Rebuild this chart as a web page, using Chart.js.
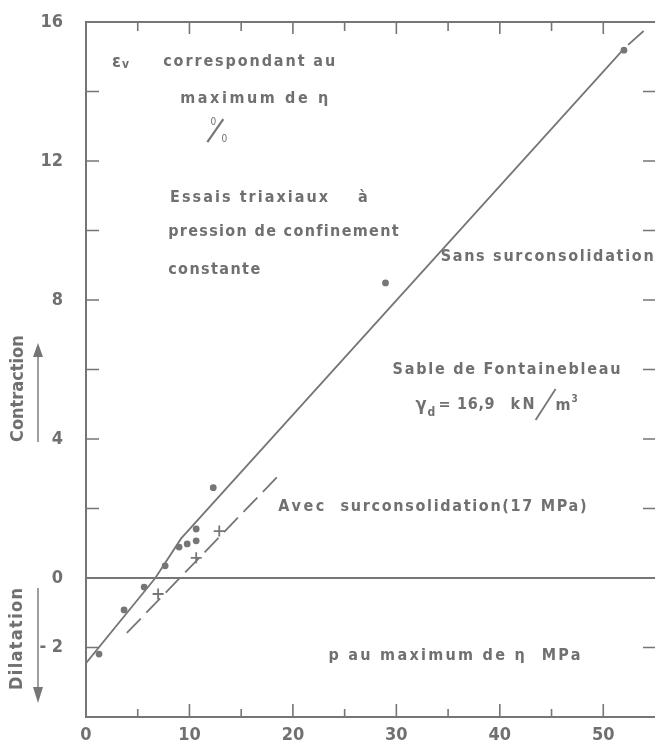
<!DOCTYPE html>
<html>
<head>
<meta charset="utf-8">
<script src="https://cdn.jsdelivr.net/npm/chart.js@4.4.1/dist/chart.umd.min.js"></script>
<style>
  html, body { margin: 0; padding: 0; background: #fff; }
  #wrap { width: 655px; height: 747px; position: relative; }
</style>
</head>
<body>
<div id="wrap"><canvas id="chart"></canvas></div>
<script>
// epsilon_v (%) at the maximum of eta, against p (MPa) at that maximum
const sansX = [1.26, 3.68, 5.62, 7.65, 9.0, 9.78, 10.65, 10.65, 12.3, 28.95, 52.0];
const sansY = [-2.19, -0.92, -0.26, 0.35, 0.89, 0.98, 1.07, 1.41, 2.6, 8.49, 15.19];
const avecX = [6.97, 10.65, 12.88];
const avecY = [-0.46, 0.58, 1.35];

// fitted lines as drawn on the figure
const sansLineX = [0, 6.7, 9.2, 51.9];
const sansLineY = [-2.45, 0, 1.14, 15.2];
const sansTailX = [52.4, 53.9];
const sansTailY = [15.34, 15.74];
const avecLineX = [3.95, 18.65];
const avecLineY = [-1.58, 2.96];

// axes
const xMin = 0, xMax = 55, xStep = 5;
const yMin = -4, yMax = 16, yStep = 2;
const xTickLabels = ["0", "10", "20", "30", "40", "50"];
const xTickValues = [0, 10, 20, 30, 40, 50];
const yTickLabels = ["- 2", "0", "4", "8", "12", "16"];
const yTickValues = [-2, 0, 4, 8, 12, 16];

const INK = "#767676";
const TXT = "#707070";
const FONT = "'Liberation Sans Narrow', 'DejaVu Sans Condensed', sans-serif";

const toPts = (xs, ys) => xs.map((x, i) => ({ x, y: ys[i] }));

// annotations: left edge / vertical middle in data units, w = drawn width in px
const notes = [
  { text: "correspondant au", x: 7.46, y: 14.85, w: 172 },
  { text: "maximum de η", x: 9.1, y: 13.78, w: 148 },
  { text: "Essais triaxiaux", x: 8.13, y: 10.94, w: 158 },
  { text: "à", x: 26.3, y: 10.94, w: 8 },
  { text: "pression de confinement", x: 7.94, y: 9.96, w: 230 },
  { text: "constante", x: 7.94, y: 8.86, w: 92 },
  { text: "Sans surconsolidation", x: 34.28, y: 9.24, w: 213 },
  { text: "Sable de Fontainebleau", x: 29.63, y: 5.99, w: 228 },
  { text: "Avec", x: 18.59, y: 2.04, w: 46 },
  { text: "surconsolidation(17 MPa)", x: 24.6, y: 2.04, w: 246 },
  { text: "p au maximum de η  MPa", x: 23.43, y: -2.24, w: 252 }
];

function spaced(ctx, text, x, y, w) {
  ctx.letterSpacing = "0px";
  const base = ctx.measureText(text).width;
  const n = [...text].length;
  const ls = n > 1 ? Math.max(0, (w - base) / (n - 1)) : 0;
  ctx.letterSpacing = ls + "px";
  ctx.fillText(text, x, y);
  ctx.letterSpacing = "0px";
}

function arrowHead(ctx, x, tipY, baseY) {
  ctx.beginPath();
  ctx.moveTo(x, tipY);
  ctx.lineTo(x - 5, baseY);
  ctx.lineTo(x + 5, baseY);
  ctx.closePath();
  ctx.fill();
}

const framePlugin = {
  id: "frame",
  afterDatasetsDraw(chart) {
    const { ctx, chartArea: a, scales } = chart;
    const sx = scales.x, sy = scales.y;
    ctx.save();
    ctx.strokeStyle = INK;
    ctx.fillStyle = TXT;
    ctx.lineWidth = 2;

    // box (right side runs off the page)
    ctx.beginPath();
    ctx.moveTo(a.right, a.top);
    ctx.lineTo(a.left, a.top);
    ctx.lineTo(a.left, a.bottom);
    ctx.lineTo(a.right, a.bottom);
    ctx.stroke();

    // inward tick marks
    ctx.lineWidth = 1.6;
    ctx.beginPath();
    sx.ticks.forEach(t => {
      if (t.value <= xMin || t.value >= xMax) return;
      const px = sx.getPixelForValue(t.value);
      const major = t.value % 10 === 0;
      ctx.moveTo(px, a.bottom); ctx.lineTo(px, a.bottom - (major ? 13 : 8));
      ctx.moveTo(px, a.top); ctx.lineTo(px, a.top + (major ? 12 : 9));
    });
    sy.ticks.forEach(t => {
      if (t.value <= yMin || t.value >= yMax || t.value === 0) return;
      const py = sy.getPixelForValue(t.value);
      ctx.moveTo(a.left, py); ctx.lineTo(a.left + 13, py);
      ctx.moveTo(a.right, py); ctx.lineTo(a.right - 12, py);
    });
    ctx.stroke();

    // annotations
    ctx.textBaseline = "middle";
    ctx.textAlign = "left";
    ctx.font = "bold 16px " + FONT;
    notes.forEach(n => spaced(ctx, n.text, sx.getPixelForValue(n.x), sy.getPixelForValue(n.y), n.w));

    // epsilon_v
    let bx = sx.getPixelForValue(2.52), by = sy.getPixelForValue(14.85);
    ctx.font = "bold 18px " + FONT;
    ctx.fillText("ε", bx, by);
    ctx.font = "bold 12px " + FONT;
    ctx.fillText("v", bx + 10, by + 3);

    // per cent sign
    bx = sx.getPixelForValue(12.5); by = sy.getPixelForValue(12.89);
    ctx.lineWidth = 2.2;
    ctx.beginPath();
    ctx.moveTo(bx - 8, by + 12); ctx.lineTo(bx + 8, by - 11);
    ctx.stroke();
    ctx.font = "10px " + FONT;
    ctx.textAlign = "center";
    ctx.fillText("0", bx - 2, by - 8);
    ctx.fillText("0", bx + 9, by + 9);

    // gamma_d = 16,9 kN/m3
    bx = sx.getPixelForValue(31.86); by = sy.getPixelForValue(4.98);
    ctx.textAlign = "left";
    ctx.font = "bold 18px " + FONT;
    ctx.fillText("γ", bx, by);
    ctx.font = "bold 12px " + FONT;
    ctx.fillText("d", bx + 12, by + 8);
    ctx.font = "bold 16px " + FONT;
    spaced(ctx, "= 16,9", bx + 23, by, 56);
    spaced(ctx, "kN", bx + 95, by, 24);
    ctx.fillText("m", bx + 140, by + 1);
    ctx.font = "bold 10px " + FONT;
    ctx.fillText("3", bx + 156, by - 6);
    ctx.lineWidth = 1.8;
    ctx.beginPath();
    ctx.moveTo(bx + 120, by + 15); ctx.lineTo(bx + 140, by - 16);
    ctx.stroke();

    // side captions with arrows
    ctx.font = "bold 18px " + FONT;
    ctx.save();
    ctx.translate(a.left - 68, 390);
    ctx.rotate(-Math.PI / 2);
    spaced(ctx, "Contraction", -52, 0, 104);
    ctx.restore();
    ctx.save();
    ctx.translate(a.left - 69, 639);
    ctx.rotate(-Math.PI / 2);
    spaced(ctx, "Dilatation", -51, 0, 102);
    ctx.restore();

    const ax = a.left - 48;
    ctx.lineWidth = 1.4;
    ctx.beginPath();
    ctx.moveTo(ax, 442); ctx.lineTo(ax, 354);
    ctx.moveTo(ax, 588); ctx.lineTo(ax, 688);
    ctx.stroke();
    ctx.fillStyle = INK;
    arrowHead(ctx, ax, 343, 357);
    arrowHead(ctx, ax, 703, 687);
    ctx.restore();
  }
};

new Chart(document.getElementById("chart"), {
  type: "scatter",
  data: {
    datasets: [
      {
        label: "Sans surconsolidation",
        data: toPts(sansX, sansY),
        pointStyle: "circle",
        pointRadius: 3.4,
        backgroundColor: INK,
        borderColor: INK,
        borderWidth: 0
      },
      {
        label: "Avec surconsolidation",
        data: toPts(avecX, avecY),
        pointStyle: "cross",
        pointRadius: 5.5,
        borderColor: INK,
        borderWidth: 1.8
      },
      {
        label: "droite sans",
        data: toPts(sansLineX, sansLineY),
        showLine: true,
        pointRadius: 0,
        borderColor: INK,
        borderWidth: 1.8
      },
      {
        label: "fin droite sans",
        data: toPts(sansTailX, sansTailY),
        showLine: true,
        pointRadius: 0,
        borderColor: INK,
        borderWidth: 1.8
      },
      {
        label: "droite avec",
        data: toPts(avecLineX, avecLineY),
        showLine: true,
        pointRadius: 0,
        borderColor: INK,
        borderWidth: 1.8,
        borderDash: [20, 8]
      },
      {
        label: "zero",
        data: [{ x: xMin, y: 0 }, { x: xMax, y: 0 }],
        showLine: true,
        pointRadius: 0,
        borderColor: INK,
        borderWidth: 1.8
      }
    ]
  },
  options: {
    responsive: true,
    maintainAspectRatio: false,
    animation: false,
    events: [],
    layout: { autoPadding: false, padding: { top: 22, right: 0, left: 0, bottom: 0 } },
    plugins: {
      legend: { display: false },
      tooltip: { enabled: false }
    },
    scales: {
      x: {
        type: "linear",
        min: xMin,
        max: xMax,
        grid: { display: false },
        border: { display: false },
        afterFit: s => { s.height = 30; s.paddingRight = 0; s.paddingLeft = 0; },
        ticks: {
          stepSize: xStep,
          autoSkip: false,
          maxRotation: 0,
          padding: 0,
          color: TXT,
          font: { family: FONT, size: 18, weight: "bold" },
          callback: v => {
            const i = xTickValues.indexOf(v);
            return i < 0 ? "" : xTickLabels[i];
          }
        }
      },
      y: {
        type: "linear",
        min: yMin,
        max: yMax,
        grid: { display: false },
        border: { display: false },
        afterFit: s => { s.width = 86; s.paddingTop = 0; s.paddingBottom = 0; },
        ticks: {
          stepSize: yStep,
          autoSkip: false,
          padding: 15,
          color: TXT,
          font: { family: FONT, size: 18, weight: "bold" },
          callback: v => {
            const i = yTickValues.indexOf(v);
            return i < 0 ? "" : yTickLabels[i];
          }
        }
      }
    }
  },
  plugins: [framePlugin]
});
</script>
</body>
</html>
